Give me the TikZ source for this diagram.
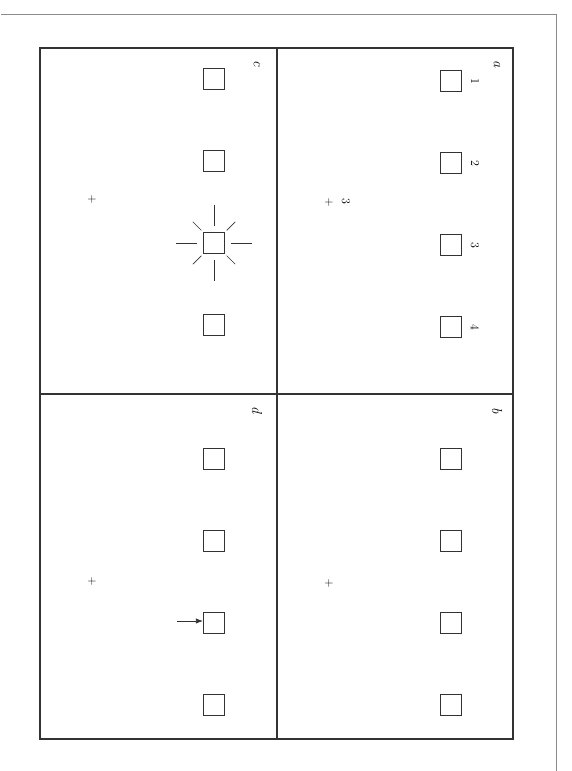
\documentclass[tikz,border=0pt]{standalone}
\usepackage{tikz}
\usetikzlibrary{arrows.meta,positioning}
\definecolor{cline}{HTML}{333333}
\definecolor{cframe}{HTML}{8A8A8A}
\tikzset{
  sq/.style={draw=cline, line width=1pt, minimum size=21pt, inner sep=0pt},
  lbl/.style={rotate=-90, font=\Large\itshape, inner sep=0pt},
  num/.style={rotate=-90, font=\large, inner sep=0pt},
  fix/.style={font=\large, inner sep=0pt},
  ray/.style={line width=0.7pt, draw=cline},
  flow/.style={-{Latex[length=2.5mm]}, line width=0.8pt, draw=cline},
}
\begin{document}
\begin{tikzpicture}[x=1pt, y=-1pt, node distance=60pt]
  \useasboundingbox (0,0) rectangle (572,771);
  % page frame and panels
  \draw[cframe, line width=1pt] (1,14) -- (556,14) -- (556,771);
  \draw[cline, line width=1.2pt] (40,48) rectangle (513,739);
  \draw[cline, line width=1.2pt] (277,48) -- (277,739);
  \draw[cline, line width=1.2pt] (40,394) -- (513,394);
  % panel a
  \node[lbl] (la) at (497,64) {a};
  \node[sq] (a1) at (451,81) {};
  \node[sq, below=of a1] (a2) {};
  \node[sq, below=of a2] (a3) {};
  \node[sq, below=of a3] (a4) {};
  \node[num] (n1) at ([xshift=13pt]a1.east) {1};
  \node[num] (n2) at ([xshift=13pt]a2.east) {2};
  \node[num] (n3) at ([xshift=13pt]a3.east) {3};
  \node[num] (n4) at ([xshift=13pt]a4.east) {4};
  \node[fix] (fa) at (329,203) {+};
  \node[num] (fa3) at (346,201) {3};
  % panel b
  \node[lbl] (lb) at (497,411) {b};
  \node[sq] (b1) at (451,459) {};
  \node[sq, below=of b1] (b2) {};
  \node[sq, below=of b2] (b3) {};
  \node[sq, below=of b3] (b4) {};
  \node[fix] (fb) at (329,583) {+};
  % panel c
  \node[lbl] (lc) at (257,64) {c};
  \node[sq] (c1) at (214,79) {};
  \node[sq, below=of c1] (c2) {};
  \node[sq, below=of c2] (c3) {};
  \node[sq, below=of c3] (c4) {};
  \node[fix] (fc) at (92,200) {+};
  \foreach \a in {0,90,180,270}
    \draw[ray] ([shift={(\a:17)}]c3.center) -- ([shift={(\a:38)}]c3.center);
  \foreach \a in {45,135,225,315}
    \draw[ray] ([shift={(\a:18)}]c3.center) -- ([shift={(\a:30)}]c3.center);
  % panel d
  \node[lbl] (ld) at (257,410) {d};
  \node[sq] (d1) at (214,459) {};
  \node[sq, below=of d1] (d2) {};
  \node[sq, below=of d2] (d3) {};
  \node[sq, below=of d3] (d4) {};
  \node[fix] (fd) at (92,581) {+};
  \coordinate (dp) at (177,621);
  \draw[flow] (dp) -- (dp -| d3.west);
\end{tikzpicture}
\end{document}
